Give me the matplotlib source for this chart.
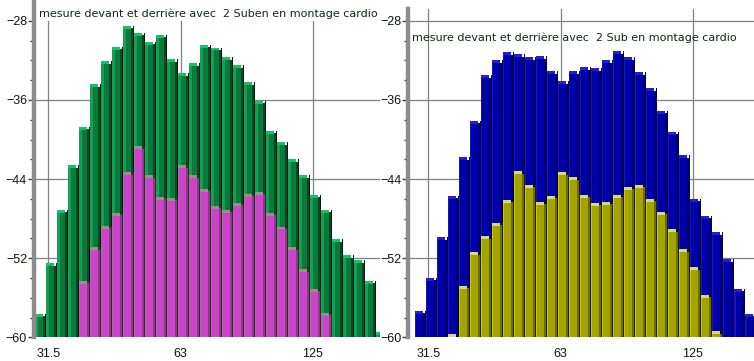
import numpy as np
import matplotlib
matplotlib.use('Agg')
from matplotlib import pyplot as plt

# 1/12 octave bands, levels in dB
xtick_labels = ['31.5', '63', '125']
xtick_pos = [1.25, 13.25, 25.25]
ytick_major = [-60, -52, -44, -36, -28]
ytick_minor = [-58, -56, -54, -50, -48, -46, -42, -40, -38, -34, -32, -30]

title_left = 'mesure devant et derrière avec  2 Suben en montage cardio'
title_right = 'mesure devant et derrière avec  2 Sub en montage cardio'

green = [-57.6, -52.5, -47.1, -42.6, -38.7, -34.4, -32.1, -30.6, -28.5, -29.2,
         -30.1, -29.4, -31.9, -33.3, -32.3, -30.4, -30.7, -31.7, -32.5, -34.2,
         -36.1, -39.1, -40.3, -42.0, -43.6, -45.6, -47.1, -50.1, -51.7, -52.2,
         -54.3, -59.5]
magenta = [-60, -60, -60, -60, -54.3, -50.9, -48.7, -47.4, -43.3, -40.7,
           -43.6, -45.8, -45.9, -42.6, -43.6, -45.0, -46.7, -47.1, -46.4, -45.5,
           -45.3, -47.4, -48.8, -50.9, -53.1, -55.1, -57.5]
blue = [-57.3, -54.0, -49.9, -45.7, -41.8, -38.1, -33.5, -32.0, -31.2, -31.4,
        -31.7, -31.6, -33.1, -34.1, -33.1, -32.7, -32.8, -32.0, -31.1, -31.7,
        -33.2, -34.8, -37.1, -39.2, -41.6, -46.0, -47.7, -49.4, -52.1, -55.1,
        -57.6]
yellow = [-60, -60, -60, -59.7, -54.8, -51.4, -49.8, -48.4, -46.1, -43.2,
          -44.6, -46.3, -45.7, -43.3, -43.8, -45.6, -46.4, -46.3, -45.6, -44.8,
          -44.6, -46.0, -47.3, -49.1, -51.1, -52.9, -55.7, -59.4]

W, H = 754, 361
fig = plt.figure(figsize=(W / 100, H / 100), dpi=100)
fig.patch.set_facecolor('white')

ybot = -60
px_unit = 9.89
bot_px = 337.3


def bars(ax, vals, face, light, side, top, sep, lw_light=0.14):
    v = np.array(vals)
    keep = v > ybot
    x = np.arange(len(v))[keep]
    v = v[keep]
    h = v - ybot
    ax.bar(x, h, width=0.72, bottom=ybot, align='edge', color=face, lw=0, zorder=2)
    ax.bar(x, h, width=lw_light, bottom=ybot, align='edge', color=light, lw=0, zorder=2)
    ax.bar(x + 0.72, h - 0.25, width=0.18, bottom=ybot, align='edge', color=side, lw=0, zorder=2)
    ax.bar(x + 0.9, h, width=0.1, bottom=ybot, align='edge', color=sep, lw=0, zorder=2)
    ax.bar(x, 0.3, width=0.72, bottom=v - 0.3, align='edge', color=top, lw=0, zorder=2)


def setup(ax, xlim, top_px, hgrid, vgrid_top):
    ax.set_xlim(*xlim)
    ymax = ybot + (bot_px - top_px) / px_unit
    ax.set_ylim(ybot, ymax)
    for s in ['top', 'right', 'bottom']:
        ax.spines[s].set_visible(False)
    ax.spines['left'].set_color('#8c8c8c')
    ax.spines['left'].set_linewidth(3.2)
    ax.set_yticks(ytick_major)
    ax.set_yticks(ytick_minor, minor=True)
    ax.tick_params(axis='y', which='major', length=4, width=1, color='#404040',
                   labelsize=9, labelcolor='#0a1a0a', pad=1)
    ax.tick_params(axis='y', which='minor', length=3, width=1, color='#404040')
    ax.set_xticks(xtick_pos)
    ax.set_xticklabels(xtick_labels)
    ax.tick_params(axis='x', length=0, labelsize=9, labelcolor='#0a1a0a', pad=8)
    for t in ax.get_xticklabels() + ax.get_yticklabels():
        t.set_family('Liberation Sans')
    for y in hgrid:
        ax.axhline(y, color='#808080', lw=0.9, zorder=1)
    frac = (vgrid_top - ybot) / (ymax - ybot)
    for x in xtick_pos:
        ax.axvline(x, ymin=0, ymax=frac, color='#808080', lw=0.9, zorder=1)


axl = fig.add_axes([34 / W, (H - bot_px) / H, (380 - 34) / W, bot_px / H])
setup(axl, (-0.06, 31.36), 0, [-36, -44, -52], -28)
bars(axl, green, '#0a7a3c', '#12a055', '#064a24', '#18c068', '#0a1a0a', 0.3)
bars(axl, magenta, '#cc44cc', '#a070a0', '#8a3a8a', '#9c8c8c', '#3a2a1a')

axr = fig.add_axes([408.5 / W, (H - bot_px) / H, (W - 408.5) / W, (bot_px - 9) / H])
setup(axr, (-0.56, 30.82), 9, [-28, -36, -44, -52], -26.8)
bars(axr, blue, '#0000aa', '#1414c4', '#00007a', '#2020d0', '#000040')
bars(axr, yellow, '#a4a400', '#c8c800', '#6e6e00', '#d8d880', '#202000')

fig.text(39 / W, 1 - 14 / H, title_left, fontsize=8, color='#0f2a0f',
         va='center', ha='left', family='DejaVu Sans')
fig.text(412 / W, 1 - 38 / H, title_right, fontsize=8, color='#0f2a0f',
         va='center', ha='left', family='DejaVu Sans')

fig.savefig('out.png', dpi=100)
